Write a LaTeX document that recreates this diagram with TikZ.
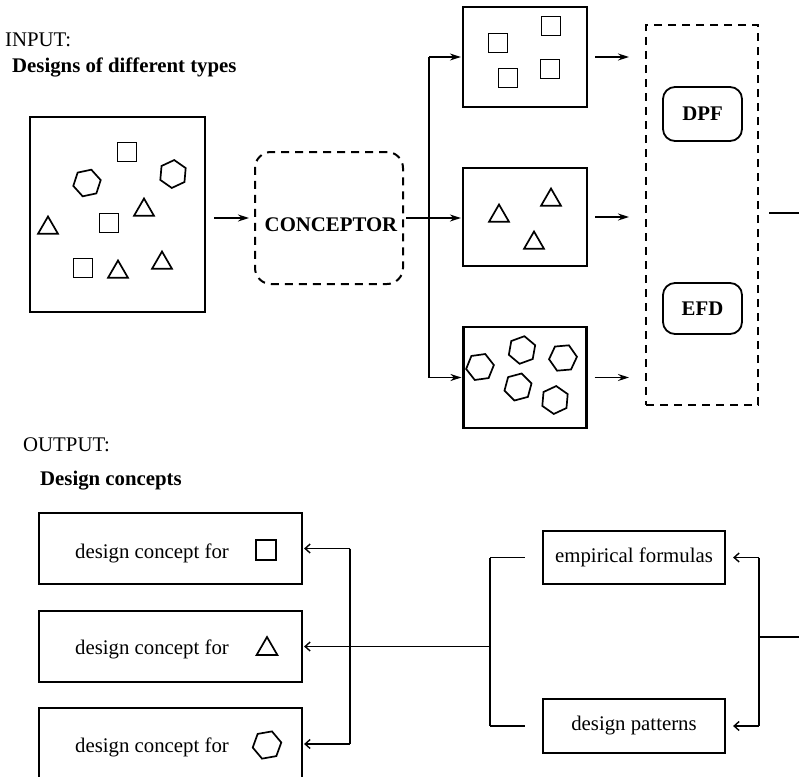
\documentclass[tikz,border=0pt]{standalone}
\usepackage{fontspec}
\setmainfont{Liberation Serif}
\usetikzlibrary{shapes.geometric,arrows.meta}

\tikzset{
  box/.style={draw, line width=2.2pt, inner sep=0pt},
  dbox/.style={draw, line width=2pt, dash pattern=on 8pt off 6pt, inner sep=0pt},
  sqr/.style={draw, line width=1.7pt, minimum size=19pt, inner sep=0pt},
  tri/.style={draw, line width=1.7pt, regular polygon, regular polygon sides=3, minimum size=23pt, inner sep=0pt},
  hex/.style={draw, line width=1.7pt, regular polygon, regular polygon sides=6, minimum size=28pt, inner sep=0pt},
  ln/.style={line width=1.4pt},
  arr/.style={line width=1.4pt, -{Stealth[length=11pt,width=7pt]}},
  barb/.style={line width=1.4pt, -{Straight Barb[length=5pt,width=9pt]}},
}

\begin{document}
\begin{tikzpicture}[x=1pt,y=-1pt,font=\fontsize{20.8}{25}\selectfont,inner sep=0pt]
    \useasboundingbox (0,0) rectangle (799,776);

    % titles
    \node[anchor=west] (inp) at (5,40) {INPUT:};
    \node[anchor=west] (dtypes) at (12,67) {\bfseries Designs of different types};
    \node[anchor=west] (outp) at (23,445) {OUTPUT:};
    \node[anchor=west] (dconc) at (40,481) {\bfseries Design concepts};

    % input designs
    \node[box, minimum width=175pt, minimum height=195pt] (inbox) at (117.5,214.5) {};
    \foreach \x/\y [count=\i] in {127/152,109/223,83/268}
        \node[sqr] (inS\i) at (\x,\y) {};
    \foreach \x/\y/\r [count=\i] in {87/183/12,173/174/25}
        \node[hex, shape border rotate=\r] (inH\i) at (\x,\y) {};
    \foreach \x/\y [count=\i] in {144/210,48/228,118/272,162/263}
        \node[tri] (inT\i) at (\x,\y) {};

    % conceptor
    \node[dbox, rounded corners=16pt, minimum width=148pt, minimum height=132pt] (concept) at (329,218) {};
    \node (conTxt) at (331,225) {\bfseries CONCEPTOR};

    % sorted designs
    \node[box, minimum width=124pt, minimum height=100pt] (sqbox) at (525,57) {};
    \node[box, minimum width=124pt, minimum height=98pt] (tribox) at (525,217) {};
    \node[box, minimum width=123pt, minimum height=101pt] (hexbox) at (525,377.5) {};
    \foreach \x/\y [count=\i] in {498/43,551/26,508/78,550/69}
        \node[sqr] (sq\i) at (\x,\y) {};
    \foreach \x/\y [count=\i] in {499/216,551/200,534/243}
        \node[tri] (tr\i) at (\x,\y) {};
    \foreach \x/\y/\r [count=\i] in {480/367/8,522/350/20,563/358/5,518/387/15,555/400/25}
        \node[hex, shape border rotate=\r] (hx\i) at (\x,\y) {};

    % DPF and EFD
    \node[dbox, minimum width=112pt, minimum height=380pt] (know) at (702,215) {};
    \node[box, line width=1.8pt, rounded corners=12pt, minimum width=79pt, minimum height=54pt] (dpf) at (702.5,114) {\bfseries DPF};
    \node[box, line width=1.8pt, rounded corners=12pt, minimum width=79pt, minimum height=51pt] (efd) at (702.5,308.5) {\bfseries EFD};

    % design concepts
    \node[box, minimum width=263pt, minimum height=71pt] (dc1) at (170.5,548.5) {};
    \node[box, minimum width=263pt, minimum height=71pt] (dc2) at (170.5,646.5) {};
    \node[box, minimum width=263pt, minimum height=72pt] (dc3) at (170.5,744) {};
    \node[anchor=west] (dc1t) at (75,553) {design concept for};
    \node[anchor=west] (dc2t) at (75,649) {design concept for};
    \node[anchor=west] (dc3t) at (75,747) {design concept for};
    \node[sqr, minimum size=20pt] (dc1s) at (266,550) {};
    \node[tri, minimum size=24pt] (dc2s) at (267,649) {};
    \node[hex, minimum size=29pt, shape border rotate=10] (dc3s) at (267,745) {};

    % formulas and patterns
    \node[box, minimum width=182pt, minimum height=53pt] (emp) at (634,557.5) {empirical formulas};
    \node[box, minimum width=182pt, minimum height=54pt] (pat) at (634,726) {design patterns};

    % connectors, top
    \coordinate (split) at (429,218);
    \draw[arr, shorten <=8pt, shorten >=5pt] (inbox.east |- concept.west) -- (concept.west);
    \draw[arr, shorten <=2pt, shorten >=1pt] (concept.east) -- (concept.east -| tribox.west);
    \draw[ln] (split |- sqbox.west) -- (split |- hexbox.west);
    \draw[arr, shorten >=1pt] (split |- sqbox.west) -- (sqbox.west);
    \draw[arr, shorten >=1pt] (split |- hexbox.west) -- (hexbox.west);
    \foreach \b in {sqbox,tribox,hexbox}
        \draw[arr, shorten <=7pt, shorten >=16pt] (\b.east) -- (\b.east -| know.west);
    \coordinate (edgeA) at (799,213);
    \draw[ln, shorten <=10pt] (know.east |- edgeA) -- (edgeA);

    % connectors, bottom
    \coordinate (edgeB) at (799,637);
    \coordinate (join) at (759,637);
    \draw[ln] (edgeB) -- (join);
    \draw[ln] (join |- emp.east) -- (join |- pat.east);
    \draw[barb, shorten >=7pt] (join |- emp.east) -- (emp.east);
    \draw[barb, shorten >=7pt] (join |- pat.east) -- (pat.east);

    \coordinate (fork) at (490,646.5);
    \draw[ln, shorten >=17pt] (fork |- emp.west) -- (emp.west);
    \draw[ln] (fork |- emp.west) -- (fork |- pat.west);
    \draw[ln, shorten >=17pt] (fork |- pat.west) -- (pat.west);
    \draw[barb, shorten >=1pt] (fork) -- (dc2.east);

    \coordinate (spread) at (350,646.5);
    \draw[ln] (spread |- dc1.east) -- (spread |- dc3.east);
    \draw[barb, shorten >=1pt] (spread |- dc1.east) -- (dc1.east);
    \draw[barb, shorten >=1pt] (spread |- dc3.east) -- (dc3.east);
\end{tikzpicture}
\end{document}
